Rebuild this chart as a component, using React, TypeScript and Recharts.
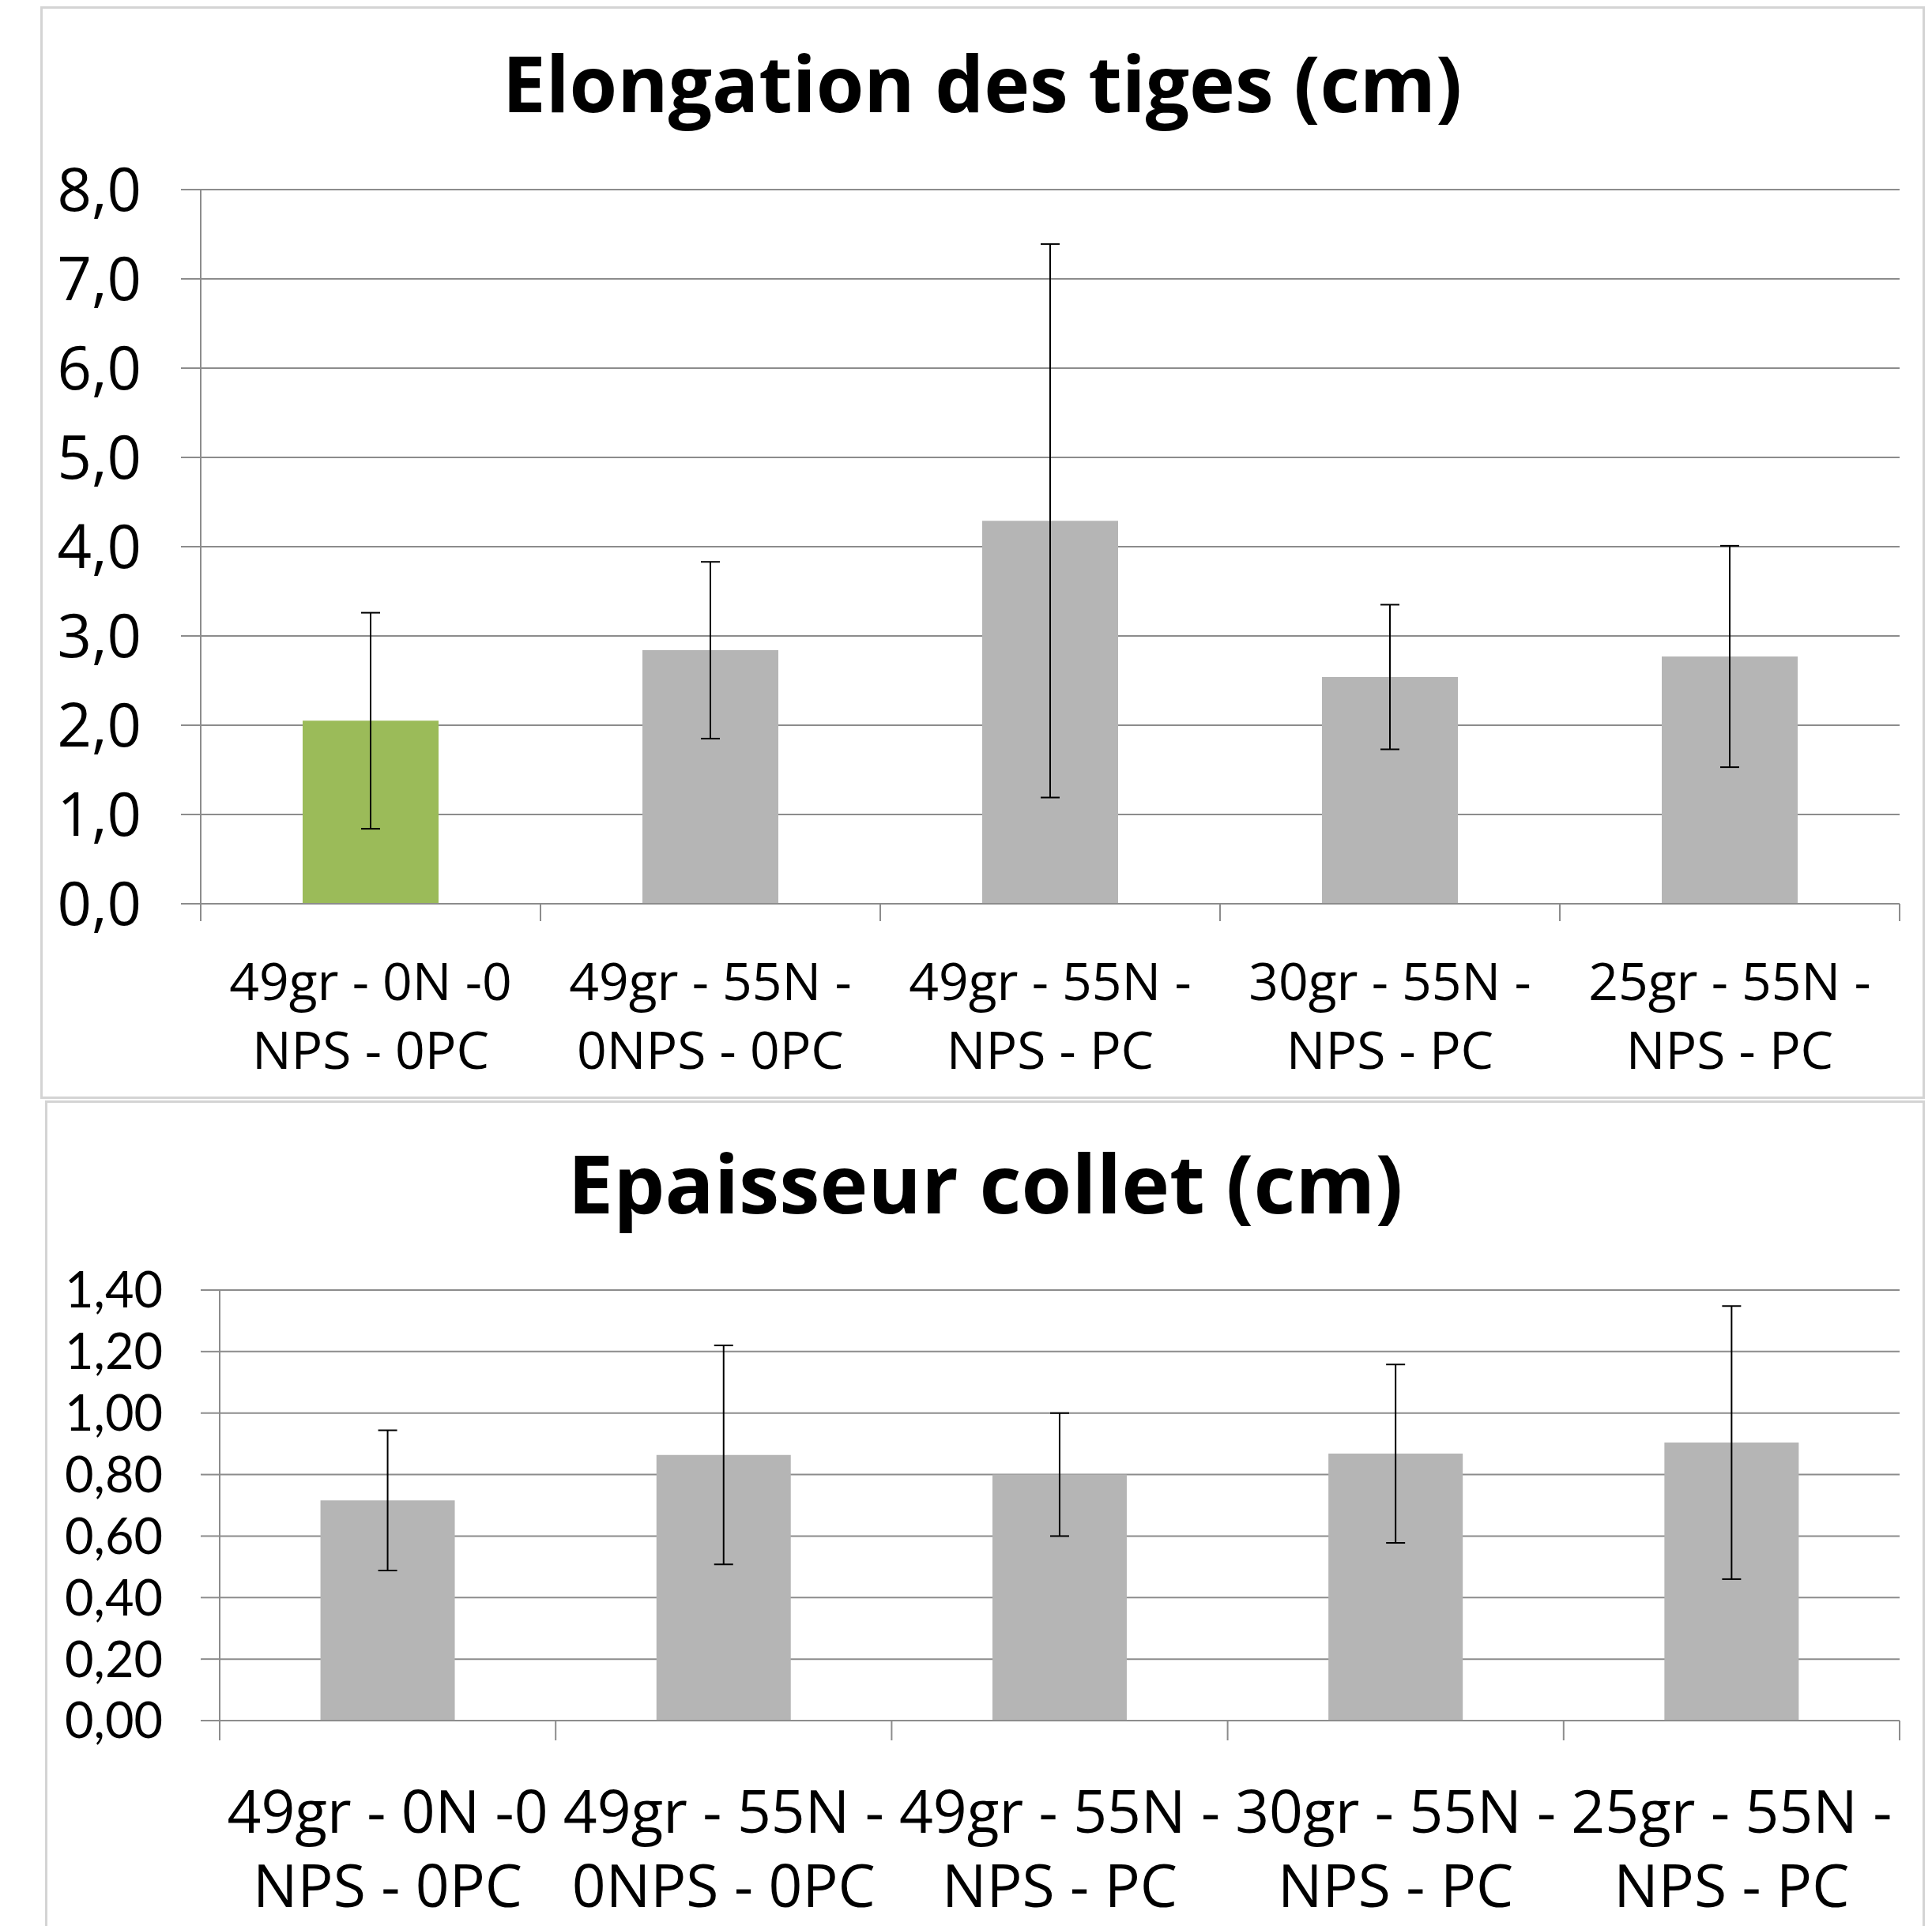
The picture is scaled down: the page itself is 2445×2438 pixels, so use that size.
import React from "react";
import { BarChart, Bar, XAxis, YAxis, CartesianGrid, ErrorBar, Cell } from "recharts";

// ---------- data ----------
const categories = ["T1", "T2", "T3", "T4", "T5"];
const labelLine1 = ["49gr - 0N -0", "49gr - 55N -", "49gr - 55N -", "30gr - 55N -", "25gr - 55N -"];
const labelLine2 = ["NPS - 0PC", "0NPS - 0PC", "NPS - PC", "NPS - PC", "NPS - PC"];

const elongation = [2.05, 2.84, 4.29, 2.54, 2.77];
const elongationErr = [1.21, 0.99, 3.1, 0.81, 1.24];
const elongationTicks = [0, 1, 2, 3, 4, 5, 6, 7, 8];

const epaisseur = [0.716, 0.864, 0.8, 0.868, 0.904];
const epaisseurErr = [0.228, 0.356, 0.2, 0.29, 0.444];
const epaisseurTicks = [0, 0.2, 0.4, 0.6, 0.8, 1.0, 1.2, 1.4];

const title1 = "Elongation des tiges (cm)";
const title2 = "Epaisseur collet (cm)";

// ---------- styles ----------
const FONT = "'Open Sans', 'Noto Sans', sans-serif";
const FONT_TIGHT = "Lato, 'Open Sans', sans-serif";
const GRID = "#8c8c8c";
const GREEN = "#9BBB59";
const GREY = "#B5B5B5";
const BORDER = "#d4d4d4";

const data1 = categories.map((c, i) => ({ cat: c, v: elongation[i], err: elongationErr[i] }));
const data2 = categories.map((c, i) => ({ cat: c, v: epaisseur[i], err: epaisseurErr[i] }));

const W = 2445;

function makeXTick(opts: { band: number; tickLen: number; off1: number; off2: number; fontSize: number }) {
  return (props: any) => {
    const { x, y, index } = props;
    const n = categories.length;
    return (
      <g>
        <line x1={x - opts.band / 2} x2={x - opts.band / 2} y1={y} y2={y + opts.tickLen} stroke={GRID} strokeWidth={2} />
        {index === n - 1 && (
          <line x1={x + opts.band / 2} x2={x + opts.band / 2} y1={y} y2={y + opts.tickLen} stroke={GRID} strokeWidth={2} />
        )}
        <text x={x} y={y + opts.off1} textAnchor="middle" fontSize={opts.fontSize} fontFamily={FONT} fill="#000">
          {labelLine1[index]}
        </text>
        <text x={x} y={y + opts.off2} textAnchor="middle" fontSize={opts.fontSize} fontFamily={FONT} fill="#000">
          {labelLine2[index]}
        </text>
      </g>
    );
  };
}

export default function App() {
  const t = { top: 0, height: 1390, plotLeft: 254, plotRight: 2404, plotTop: 240, plotBottom: 1144 };
  const b = { top: 1390, height: 1048, plotLeft: 278, plotRight: 2404, plotTop: 1633, plotBottom: 2178 };
  const band1 = (t.plotRight - t.plotLeft) / categories.length;
  const band2 = (b.plotRight - b.plotLeft) / categories.length;

  return (
    <div style={{ position: "fixed", left: 0, top: 0, width: W, height: 2438, overflow: "hidden", background: "#fff" }}>
      {/* frames */}
      <div style={{ position: "absolute", left: 51, top: 8, width: 2385, height: 1383, border: `3px solid ${BORDER}`, boxSizing: "border-box" }} />
      <div style={{ position: "absolute", left: 57, top: 1393, width: 2379, height: 1100, border: `3px solid ${BORDER}`, boxSizing: "border-box" }} />

      {/* top chart */}
      <div style={{ position: "absolute", left: 0, top: t.top }}>
        <BarChart
          width={W}
          height={t.height}
          data={data1}
          margin={{ top: t.plotTop - t.top, right: W - t.plotRight, left: 0, bottom: 0 }}
          barCategoryGap="30%"
        >
          <CartesianGrid vertical={false} stroke={GRID} strokeWidth={2} />
          <XAxis
            dataKey="cat"
            interval={0}
            height={t.top + t.height - t.plotBottom}
            axisLine={{ stroke: GRID, strokeWidth: 2 }}
            tickLine={false}
            tickSize={0}
            tickMargin={0}
            tick={makeXTick({ band: band1, tickLen: 22, off1: 122, off2: 209, fontSize: 66 })}
          />
          <YAxis
            width={t.plotLeft}
            domain={[0, 8]}
            ticks={elongationTicks}
            interval={0}
            axisLine={{ stroke: GRID, strokeWidth: 2 }}
            tickLine={{ stroke: GRID, strokeWidth: 2 }}
            tickSize={25}
            tickMargin={50}
            tickFormatter={(v: number) => v.toFixed(1).replace(".", ",")}
            tick={{ fontSize: 76, fontFamily: FONT, fill: "#000" }}
          />
          <Bar dataKey="v" isAnimationActive={false}>
            {data1.map((d, i) => (
              <Cell key={i} fill={i === 0 ? GREEN : GREY} />
            ))}
            <ErrorBar dataKey="err" width={12} stroke="#000" strokeWidth={2} direction="y" />
          </Bar>
        </BarChart>
      </div>

      {/* bottom chart */}
      <div style={{ position: "absolute", left: 0, top: b.top }}>
        <BarChart
          width={W}
          height={b.height}
          data={data2}
          margin={{ top: b.plotTop - b.top, right: W - b.plotRight, left: 0, bottom: 0 }}
          barCategoryGap="30%"
        >
          <CartesianGrid vertical={false} stroke={GRID} strokeWidth={2} />
          <XAxis
            dataKey="cat"
            interval={0}
            height={b.top + b.height - b.plotBottom}
            axisLine={{ stroke: GRID, strokeWidth: 2 }}
            tickLine={false}
            tickSize={0}
            tickMargin={0}
            tick={makeXTick({ band: band2, tickLen: 25, off1: 142, off2: 236, fontSize: 75 })}
          />
          <YAxis
            width={b.plotLeft}
            domain={[0, 1.4]}
            ticks={epaisseurTicks}
            interval={0}
            axisLine={{ stroke: GRID, strokeWidth: 2 }}
            tickLine={{ stroke: GRID, strokeWidth: 2 }}
            tickSize={24}
            tickMargin={48}
            tickFormatter={(v: number) => v.toFixed(2).replace(".", ",")}
            tick={{ fontSize: 63, fontFamily: FONT_TIGHT, fill: "#000" }}
          />
          <Bar dataKey="v" isAnimationActive={false}>
            {data2.map((d, i) => (
              <Cell key={i} fill={GREY} />
            ))}
            <ErrorBar dataKey="err" width={12} stroke="#000" strokeWidth={2} direction="y" />
          </Bar>
        </BarChart>
      </div>

      {/* titles */}
      <svg width={W} height={2438} style={{ position: "absolute", left: 0, top: 0, pointerEvents: "none" }}>
        <text x={1243} y={142} textAnchor="middle" fontSize={98} fontWeight="bold" fontFamily={FONT} fill="#000">
          {title1}
        </text>
        <text x={1247} y={1536} textAnchor="middle" fontSize={103} fontWeight="bold" fontFamily={FONT} fill="#000">
          {title2}
        </text>
      </svg>
    </div>
  );
}
